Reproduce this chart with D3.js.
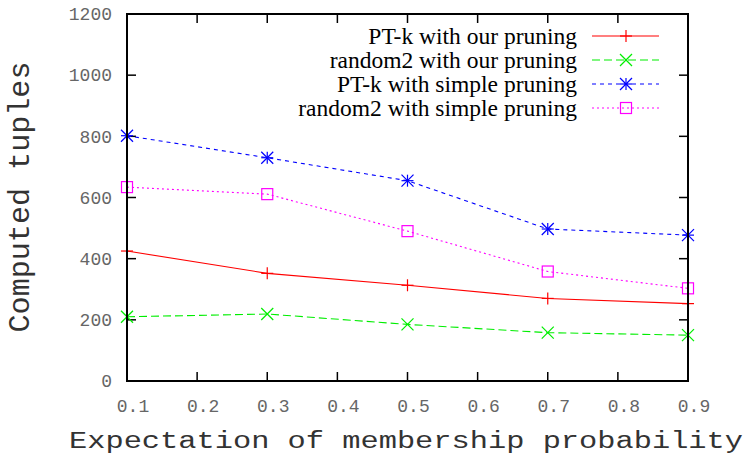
<!DOCTYPE html>
<html>
<head>
<meta charset="utf-8">
<script src="https://cdn.jsdelivr.net/npm/d3@7"></script>
<style>
  html, body { margin: 0; padding: 0; background: #fff; }
  svg { display: block; }
</style>
</head>
<body>
<svg id="chart" width="748" height="455"></svg>
<script>
// Expectation of membership probability (x axis)
const xValues = [0.1, 0.3, 0.5, 0.7, 0.9];
const xTicks = [0.1, 0.2, 0.3, 0.4, 0.5, 0.6, 0.7, 0.8, 0.9];
const yTicks = [0, 200, 400, 600, 800, 1000, 1200];

// Computed tuples per method
const ptkOur = [425, 352, 313, 270, 253];
const random2Our = [210, 219, 185, 158, 150];
const ptkSimple = [802, 730, 655, 497, 477];
const random2Simple = [634, 611, 490, 358, 303];

const seriesNames = [
  "PT-k with our pruning",
  "random2 with our pruning",
  "PT-k with simple pruning",
  "random2 with simple pruning"
];
const seriesColors = ["#ff0000", "#00ee00", "#0000ff", "#ff00ff"];
const seriesDash = [null, "8,4", "4,4", "2,3"];
const seriesMarkers = ["plus", "cross", "star", "square"];

const series = [ptkOur, random2Our, ptkSimple, random2Simple].map((vals, i) => ({
  name: seriesNames[i], values: vals, color: seriesColors[i],
  dash: seriesDash[i], marker: seriesMarkers[i]
}));

const svg = d3.select("#chart");
const plotLeft = 127, plotRight = 688, plotTop = 14, plotBottom = 381;

const x = d3.scaleLinear().domain([0.1, 0.9]).range([plotLeft, plotRight]);
const y = d3.scaleLinear().domain([0, 1200]).range([plotBottom, plotTop]);

const mono = "'Liberation Mono', 'DejaVu Sans Mono', monospace";
const serif = "'Liberation Serif', 'Times New Roman', serif";

// Tick marks pointing inward on all four sides
const tickLen = 9;
const axisG = svg.append("g").attr("stroke", "#000").attr("stroke-width", 1.5);
xTicks.forEach(t => {
  axisG.append("line").attr("x1", x(t)).attr("x2", x(t)).attr("y1", plotBottom).attr("y2", plotBottom - tickLen);
  axisG.append("line").attr("x1", x(t)).attr("x2", x(t)).attr("y1", plotTop).attr("y2", plotTop + tickLen);
});
yTicks.forEach(t => {
  axisG.append("line").attr("x1", plotLeft).attr("x2", plotLeft + tickLen).attr("y1", y(t)).attr("y2", y(t));
  axisG.append("line").attr("x1", plotRight).attr("x2", plotRight - tickLen).attr("y1", y(t)).attr("y2", y(t));
});

// Tick labels
svg.append("g").selectAll("text").data(yTicks).join("text")
  .attr("x", 112).attr("y", d => y(d)).attr("dy", "0.35em")
  .attr("text-anchor", "end").attr("font-family", mono).attr("font-size", 18)
  .attr("fill", "#666").text(d => d);

svg.append("g").selectAll("text").data(xTicks).join("text")
  .attr("x", d => x(d) + 6).attr("y", 405.5).attr("dy", "0.35em")
  .attr("text-anchor", "middle").attr("font-family", mono).attr("font-size", 18)
  .attr("fill", "#666").text(d => d3.format(".1f")(d));

// Axis titles
svg.append("text")
  .attr("transform", "translate(406,448) scale(1,0.78)")
  .attr("text-anchor", "middle").attr("font-family", mono).attr("font-size", 29.5)
  .attr("textLength", 674).attr("lengthAdjust", "spacingAndGlyphs")
  .attr("fill", "#333").text("Expectation of membership probability");

svg.append("text")
  .attr("transform", "translate(18,197) rotate(-90)")
  .attr("dy", "0.35em")
  .attr("text-anchor", "middle").attr("font-family", mono).attr("font-size", 30)
  .attr("textLength", 271).attr("lengthAdjust", "spacingAndGlyphs")
  .attr("fill", "#333").text("Computed tuples");

// Marker drawing
function drawMarker(g, type, cx, cy, color) {
  const s = 6;
  const m = g.append("g").attr("stroke", color).attr("stroke-width", 1.2).attr("fill", "none");
  if (type === "plus" || type === "star") {
    m.append("line").attr("x1", cx - s).attr("x2", cx + s).attr("y1", cy).attr("y2", cy);
    m.append("line").attr("x1", cx).attr("x2", cx).attr("y1", cy - s).attr("y2", cy + s);
  }
  if (type === "cross" || type === "star") {
    m.append("line").attr("x1", cx - s).attr("x2", cx + s).attr("y1", cy - s).attr("y2", cy + s);
    m.append("line").attr("x1", cx - s).attr("x2", cx + s).attr("y1", cy + s).attr("y2", cy - s);
  }
  if (type === "square") {
    m.append("rect").attr("x", cx - 5.5).attr("y", cy - 5.5).attr("width", 11).attr("height", 11);
  }
}

const line = d3.line().x((d, i) => x(xValues[i])).y(d => y(d));

series.forEach(s => {
  svg.append("path").datum(s.values)
    .attr("d", line).attr("fill", "none").attr("stroke", s.color)
    .attr("stroke-width", 1.1).attr("stroke-dasharray", s.dash);
  const g = svg.append("g");
  s.values.forEach((v, i) => drawMarker(g, s.marker, x(xValues[i]), y(v), s.color));
});

// Legend
const legendY = [36, 60, 84, 108];
series.forEach((s, i) => {
  svg.append("text")
    .attr("x", 577).attr("y", legendY[i]).attr("dy", "0.35em")
    .attr("text-anchor", "end").attr("font-family", serif).attr("font-size", 23.5)
    .attr("fill", "#000").text(s.name);
  svg.append("line")
    .attr("x1", 592).attr("x2", 659).attr("y1", legendY[i]).attr("y2", legendY[i])
    .attr("stroke", s.color).attr("stroke-width", 1.1).attr("stroke-dasharray", s.dash);
  drawMarker(svg, s.marker, 626, legendY[i], s.color);
});

// Frame
svg.append("rect")
  .attr("x", plotLeft).attr("y", plotTop).attr("width", plotRight - plotLeft).attr("height", plotBottom - plotTop)
  .attr("fill", "none").attr("stroke", "#000").attr("stroke-width", 2);
</script>
</body>
</html>
